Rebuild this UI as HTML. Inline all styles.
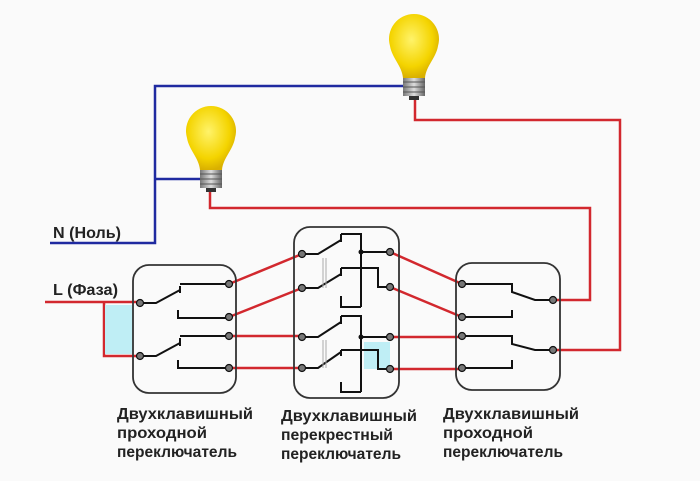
<!DOCTYPE html>
<html><head><meta charset="utf-8"><style>
body{margin:0;background:#fafafa;}
svg{display:block}
text{font-family:"Liberation Sans",sans-serif;font-weight:bold;font-size:15.5px;fill:#222}
</style></head><body>
<svg width="700" height="481" viewBox="0 0 700 481" xmlns="http://www.w3.org/2000/svg">
<defs>
<radialGradient id="g" cx="0.45" cy="0.4" r="0.6"><stop offset="0" stop-color="#fff36a"/><stop offset="0.7" stop-color="#f4d400"/><stop offset="1" stop-color="#d9b000"/></radialGradient>
<linearGradient id="b" x1="0" x2="1"><stop offset="0" stop-color="#777"/><stop offset="0.5" stop-color="#ddd"/><stop offset="1" stop-color="#666"/></linearGradient>
<g id="bulb">
<path d="M-24,-2 A25,25 0 1 1 24,-2 C22,10 12,18 11,30 L-11,30 C-12,18 -22,10 -24,-2 Z" fill="url(#g)"/>
<rect x="-11" y="30" width="22" height="18" fill="url(#b)"/>
<path d="M-11,34 H11 M-11,39 H11 M-11,44 H11" stroke="#555" stroke-width="1"/>
<rect x="-5" y="48" width="10" height="4" fill="#333"/>
</g>
</defs>
<g stroke="#1f2aa0" stroke-width="2.5" fill="none">
<path d="M50,243 H155 V86 H405"/>
<path d="M155,179 H200"/>
</g>
<g stroke="#d2282e" stroke-width="2.5" fill="none">
<path d="M210,192 V208 H590 V300 H553"/>
<path d="M415,98 V120 H620 V350 H553"/>
<path d="M45,302 H140 M104,302 V356 H140"/>
<path d="M229,284 L302,254 M229,317 L302,288 M229,336 H302 M229,368 H302"/>
<path d="M390,252 L462,284 M390,287 L462,317 M390,337 H462 M390,369 H462"/>
</g>
<rect x="105" y="305" width="28" height="49" fill="#bfeef5"/>
<rect x="364" y="342" width="26" height="27" fill="#bfeef5"/>
<use href="#bulb" x="211" y="140"/>
<use href="#bulb" x="414" y="48"/>
<g fill="none" stroke="#333" stroke-width="1.8">
<rect x="133" y="265" width="103" height="128" rx="16"/>
<rect x="294" y="227" width="105" height="171" rx="16"/>
<rect x="456" y="263" width="104" height="127" rx="16"/>
</g>
<g stroke="#111" stroke-width="2" fill="none">
<path d="M140,303 H156 L180,290 M180,286 V293 M180,284 H229 M178,310 V318 H229"/>
<path d="M140,356 H156 L180,343 M180,338 V346 M180,336 H229 M178,360 V368 H229"/>
<path d="M302,254 H318 L341,240 M341,234 V242 M341,234 H361 V307 M361,252 H390"/>
<path d="M302,288 H318 L341,274 M341,268 V276 M341,268 H378 V287 H390 M341,296 V307 H361"/>
<path d="M302,337 H318 L341,322 M341,316 V324 M341,316 H361 V392 M361,337 H390"/>
<path d="M302,368 H318 L341,352 M341,350 V356 M341,350 H378 V369 H390 M341,382 V392 H361"/>
<path d="M462,284 H512 V292 L535,300 H553 M462,317 H512 V310"/>
<path d="M462,336 H512 V344 L535,350 H553 M462,368 H512 V360"/>
</g>
<g stroke="#aaa" stroke-width="1">
<path d="M323,258 V288 M326,258 V288 M323,340 V368 M326,340 V368"/>
</g>
<g fill="#777" stroke="#111" stroke-width="1.2">
<circle cx="140" cy="303" r="3.5"/><circle cx="140" cy="356" r="3.5"/>
<circle cx="229" cy="284" r="3.5"/><circle cx="229" cy="317" r="3.5"/><circle cx="229" cy="336" r="3.5"/><circle cx="229" cy="368" r="3.5"/>
<circle cx="302" cy="254" r="3.5"/><circle cx="302" cy="288" r="3.5"/><circle cx="302" cy="337" r="3.5"/><circle cx="302" cy="368" r="3.5"/>
<circle cx="390" cy="252" r="3.5"/><circle cx="390" cy="287" r="3.5"/><circle cx="390" cy="337" r="3.5"/><circle cx="390" cy="369" r="3.5"/>
<circle cx="462" cy="284" r="3.5"/><circle cx="462" cy="317" r="3.5"/><circle cx="462" cy="336" r="3.5"/><circle cx="462" cy="368" r="3.5"/>
<circle cx="553" cy="300" r="3.5"/><circle cx="553" cy="350" r="3.5"/>
</g>
<circle cx="361" cy="252" r="2.5" fill="#111"/><circle cx="361" cy="337" r="2.5" fill="#111"/>
<text x="53" y="238" textLength="68" lengthAdjust="spacingAndGlyphs">N (Ноль)</text>
<text x="53" y="295" textLength="65" lengthAdjust="spacingAndGlyphs">L (Фаза)</text>
<text x="117" y="419" textLength="136" lengthAdjust="spacingAndGlyphs">Двухклавишный</text>
<text x="117" y="438" textLength="90" lengthAdjust="spacingAndGlyphs">проходной</text>
<text x="117" y="457" textLength="120" lengthAdjust="spacingAndGlyphs">переключатель</text>
<text x="281" y="421" textLength="136" lengthAdjust="spacingAndGlyphs">Двухклавишный</text>
<text x="281" y="440" textLength="112" lengthAdjust="spacingAndGlyphs">перекрестный</text>
<text x="281" y="459" textLength="120" lengthAdjust="spacingAndGlyphs">переключатель</text>
<text x="443" y="419" textLength="136" lengthAdjust="spacingAndGlyphs">Двухклавишный</text>
<text x="443" y="438" textLength="90" lengthAdjust="spacingAndGlyphs">проходной</text>
<text x="443" y="457" textLength="120" lengthAdjust="spacingAndGlyphs">переключатель</text>
</svg>
</body></html>
